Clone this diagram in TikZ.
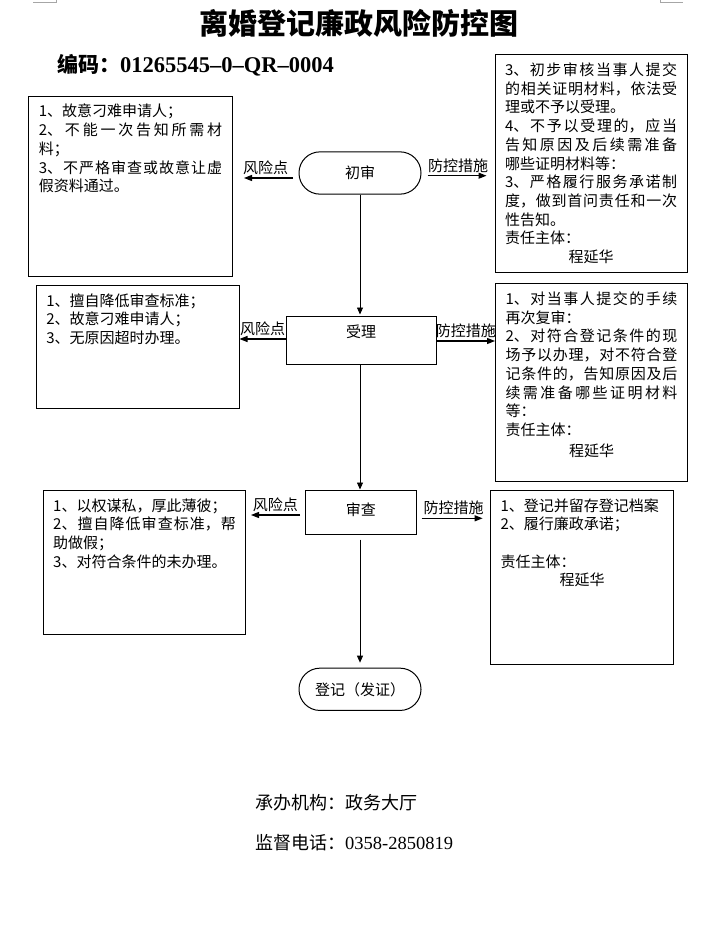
\documentclass[tikz,border=0pt]{standalone}
\usepackage{fontspec}
\setmainfont{Noto Sans CJK SC}
\newfontfamily\numfont{Liberation Serif}
\usetikzlibrary{arrows.meta}
\XeTeXlinebreaklocale "zh"
\XeTeXlinebreakskip=0pt plus 3pt
\tolerance=10000
\hbadness=10000

\begin{document}
\begin{tikzpicture}
[
    x=1pt, y=-1pt,
    txt/.style={font=\fontsize{15pt}{18.7pt}\selectfont},
    riskbox/.style={draw, line width=1pt, anchor=north west, inner xsep=10pt, inner ysep=8pt, txt},
    stepnode/.style={draw, line width=1pt, txt, text height=12.7pt, text depth=1.3pt},
    endnode/.style={stepnode, rounded corners=21pt, minimum width=122pt, minimum height=42.3pt},
    risktag/.style={txt, inner sep=0pt, above=2.5pt, text height=12.6pt, text depth=1.4pt},
    arr/.style={-{Triangle[length=8pt,width=6pt]}, line width=1.2pt},
    flowline/.style={-{Triangle[length=7pt,width=6pt]}, line width=0.8pt},
]
\fill[white] (0,0) rectangle (719,942);
\useasboundingbox (0,0) rectangle (719,942);
\draw[gray!70, line width=1pt] (33,2.3) -- (56,2.3) -- (56,0);
\draw[gray!70, line width=1pt] (660,0) -- (660,2.3) -- (683,2.3);

\node[font=\fontsize{29pt}{29pt}\selectfont\bfseries, text height=24pt, text depth=2pt, inner sep=0pt] (title) at (359,23.5) {离婚登记廉政风险防控图};
\node[anchor=west, inner sep=0pt, text height=18pt, text depth=2pt, font=\fontsize{21pt}{21pt}\selectfont\bfseries] (code) at (57,64)
{编码：{\numfont\fontsize{22.5pt}{22.5pt}\selectfont 01265545–0–QR–0004}};

\node[endnode] (chushen) at (360,173) {初审};
\node[stepnode, minimum width=150pt, minimum height=48pt, text height=12pt, text depth=16.6pt] (shouli) at (361,340) {受理};
\node[stepnode, minimum width=111.5pt, minimum height=44pt, text height=11pt, text depth=5pt] (shencha) at (360.75,512) {审查};
\node[endnode] (dengji) at (360,689.3) {登记（发证）};

\node[riskbox] (rl1) at (28.4,95.7) {\parbox[t][164.3pt][t]{183.3pt}{%
1、故意刁难申请人；\\
2、不能一次告知所需材\linebreak 料；\\
3、不严格审查或故意让虚\linebreak 假资料通过。}};
\node[riskbox] (rr1) at (494.5,54.3) {\parbox[t][202pt][t]{172.2pt}{%
3、初步审核当事人提交\linebreak 的相关证明材料，依法受\linebreak 理或不予以受理。\\
4、不予以受理的，应当\linebreak 告知原因及后续需准备\linebreak 哪些证明材料等：\\
3、严格履行服务承诺制\linebreak 度，做到首问责任和一次\linebreak 性告知。\\
责任主体：\par
{\centering 程延华\par}}};
\node[riskbox] (rl2) at (35.8,285) {\parbox[t][107pt][t]{182.7pt}{%
1、擅自降低审查标准；\\
2、故意刁难申请人；\\
3、无原因超时办理。}};
\node[riskbox] (rr2) at (495,283.3) {\parbox[t][181.7pt][t]{172pt}{%
1、对当事人提交的手续\linebreak 再次复审：\\
2、对符合登记条件的现\linebreak 场予以办理，对不符合登\linebreak 记条件的，告知原因及后\linebreak 续需准备哪些证明材料\linebreak 等：\\
责任主体：\par\vspace{2.3pt}
{\centering 程延华\par}}};
\node[riskbox] (rl3) at (42.7,490) {\parbox[t][128pt][t]{182.7pt}{%
1、以权谋私，厚此薄彼；\\
2、擅自降低审查标准，帮\linebreak 助做假；\\
3、对符合条件的未办理。}};
\node[riskbox] (rr3) at (490,490) {\parbox[t][158pt][t]{163pt}{%
1、登记并留存登记档案\\
2、履行廉政承诺；\par\vspace{18.7pt}
责任主体：\par
{\centering 程延华\par}}};

\coordinate (p1l) at ([yshift=-5pt]chushen.west);
\draw[arr, shorten <=5.4pt, shorten >=11.3pt] (p1l) -- node[risktag] {风险点} (p1l -| rl1.east);
\coordinate (p1r) at ([yshift=-2.7pt]chushen.east);
\draw[arr, shorten <=6pt, shorten >=8pt] (p1r) -- node[risktag] {防控措施} (p1r -| rr1.west);
\coordinate (p2l) at ([yshift=1pt]shouli.west);
\draw[arr] (p2l) -- node[risktag] {风险点} (p2l -| rl2.east);
\coordinate (p2r) at ([yshift=-1pt]shouli.east);
\draw[arr] (p2r) -- node[risktag] {防控措施} (p2r -| rr2.west);
\coordinate (p3l) at ([yshift=-3pt]shencha.west);
\draw[arr, shorten <=4.5pt, shorten >=4.6pt] (p3l) -- node[risktag] {风险点} (p3l -| rl3.east);
\coordinate (p3r) at ([yshift=-6.3pt]shencha.east);
\draw[arr, shorten <=4.5pt, shorten >=7.4pt] (p3r) -- node[risktag] {防控措施} (p3r -| rr3.west);

\draw[flowline, shorten >=1pt] (chushen.south) -- (chushen.south |- shouli.north);
\draw[flowline] (shouli.south -| chushen.south) -- (shencha.north -| chushen.south);
\draw[flowline, shorten <=5pt, shorten >=5pt] (shencha.south -| chushen.south) -- (dengji.north);

\node[anchor=west, inner sep=0pt, font=\fontsize{18pt}{18pt}\selectfont, text height=15pt, text depth=1.3pt] (office) at (255,803) {承办机构：政务大厅};
\node[anchor=west, inner sep=0pt, font=\fontsize{18pt}{18pt}\selectfont, text height=15pt, text depth=1.3pt] (phone) at (255,843)
{监督电话：{\numfont\fontsize{18.5pt}{18.5pt}\selectfont 0358-2850819}};
\end{tikzpicture}
\end{document}
